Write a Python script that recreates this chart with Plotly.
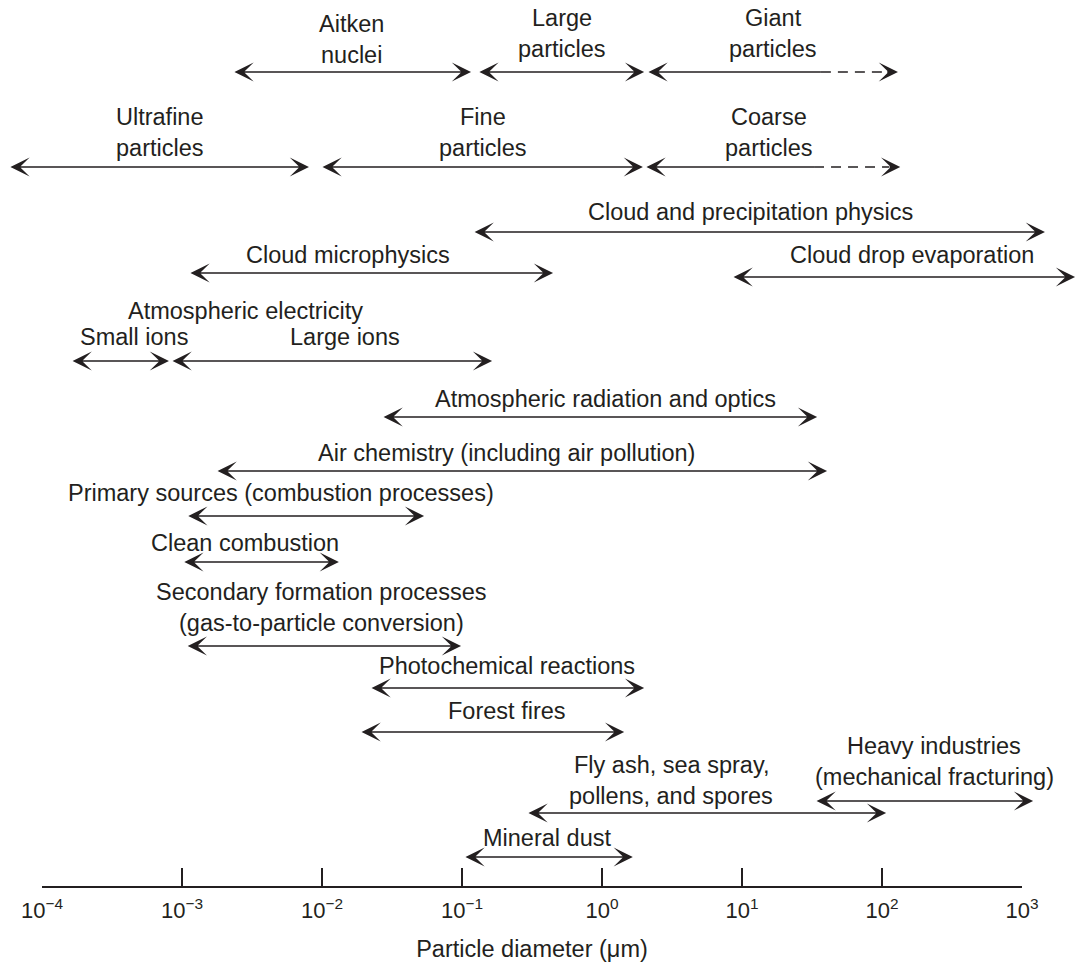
import math
import plotly.graph_objects as go

# ---------------- data (particle diameter ranges, micrometres) ----------------
categories = [
    "Aitken<br>nuclei", "Large<br>particles", "Giant<br>particles",
    "Ultrafine<br>particles", "Fine<br>particles", "Coarse<br>particles",
    "Cloud and precipitation physics", "Cloud microphysics", "Cloud drop evaporation",
    "Small ions", "Large ions",
    "Atmospheric radiation and optics", "Air chemistry (including air pollution)",
    "Primary sources (combustion processes)", "Clean combustion",
    "Secondary formation processes<br>(gas-to-particle conversion)",
    "Photochemical reactions", "Forest fires",
    "Fly ash, sea spray,<br>pollens, and spores",
    "Heavy industries<br>(mechanical fracturing)", "Mineral dust",
]
d_min = [2.35e-3, 0.132, 2.13,
         5.9e-5, 0.0100, 2.06,
         0.122, 1.14e-3, 8.63,
         1.64e-4, 8.49e-4,
         0.0273, 1.78e-3,
         1.10e-3, 1.03e-3,
         1.09e-3,
         0.0224, 0.0190,
         0.296,
         33.8, 0.105]
d_max = [0.116, 2.0, 130.0,
         8.07e-3, 1.96, 135.0,
         1459.0, 0.447, 2393.0,
         8.07e-4, 0.164,
         34.4, 40.5,
         0.0536, 0.0132,
         0.0984,
         2.0, 1.44,
         107.0,
         1200.0, 1.66]
# upper limit uncertain beyond this diameter (drawn dashed)
d_dashed_from = [None, None, 36.6,
                 None, None, 32.7,
                 None, None, None,
                 None, None,
                 None, None,
                 None, None,
                 None,
                 None, None,
                 None,
                 None, None]
header_label = "Atmospheric electricity"
tick_values = [1e-4, 1e-3, 1e-2, 1e-1, 1e0, 1e1, 1e2, 1e3]
tick_labels = ["10<sup>\u22124</sup>", "10<sup>\u22123</sup>", "10<sup>\u22122</sup>",
               "10<sup>\u22121</sup>", "10<sup>0</sup>", "10<sup>1</sup>",
               "10<sup>2</sup>", "10<sup>3</sup>"]
axis_title = "Particle diameter (\u03bcm)"

# ---------------- layout (pixel rows / label anchors) ----------------
W, H = 1077, 962
PLOT_BOTTOM = 886
arrow_row = [72, 72, 72, 167, 167, 167, 232, 273, 277, 361, 361,
             417, 471, 516, 562, 646, 688, 732, 813, 801, 857]
label_px = [351, 562, 773, 160, 483, 769, 750, 348, 912, 134, 345,
            605, 506, 281, 245, 321, 507, 507, 671, 934, 547]
label_row = [24, 18, 18, 117, 117, 117, 212, 255, 255, 337, 337,
             399, 453, 493, 543, 592, 666, 711, 765, 746, 838]
header_px, header_row = 245, 311
LINE_GAP = 31

INK = "#231f20"
FONT = "Liberation Sans, Arial, Helvetica, sans-serif"
FS = 23.5
AW = 1.6
AS = 2.0

fig = go.Figure()

def arrow(x_head, x_tail, y, side):
    fig.add_annotation(
        x=math.log10(x_head), y=y, ax=math.log10(x_tail), ay=y,
        xref="x", yref="y", axref="x", ayref="y",
        text="", showarrow=True, arrowside=side,
        arrowhead=3, startarrowhead=3,
        arrowsize=AS, startarrowsize=AS, arrowwidth=AW, arrowcolor=INK,
        font=dict(size=1), borderpad=0,
    )

for i, name in enumerate(categories):
    lo, hi, dash_from = d_min[i], d_max[i], d_dashed_from[i]
    y = arrow_row[i]
    if dash_from is None:
        arrow(hi, lo, y, "end+start")
    else:
        arrow(dash_from, lo, y, "start")
        tip_tail = 10 ** (math.log10(hi) - 0.08)
        fig.add_trace(go.Scatter(
            x=[dash_from, tip_tail], y=[y, y], mode="lines",
            line=dict(color=INK, width=AW, dash="10px,7px"),
            hoverinfo="skip", showlegend=False))
        arrow(hi, tip_tail, y, "end")
    # label (one annotation per text line for controlled spacing)
    for k, line in enumerate(name.split("<br>")):
        fig.add_annotation(
            x=label_px[i] / W, y=label_row[i] + k * LINE_GAP,
            xref="paper", yref="y", text=line, showarrow=False,
            xanchor="center", yanchor="middle",
            font=dict(family=FONT, size=FS, color=INK))

fig.add_annotation(
    x=header_px / W, y=header_row, xref="paper", yref="y",
    text=header_label, showarrow=False, xanchor="center", yanchor="middle",
    font=dict(family=FONT, size=FS, color=INK))

fig.update_layout(
    width=W, height=H,
    margin=dict(l=0, r=0, t=0, b=H - PLOT_BOTTOM, autoexpand=False),
    paper_bgcolor="white", plot_bgcolor="white",
    showlegend=False,
    xaxis=dict(
        type="log", range=[-4, 3],
        domain=[42 / W, 1022 / W],
        automargin=False,
        showline=True, linewidth=2, linecolor=INK,
        ticks="inside", ticklen=18, tickwidth=1.5, tickcolor=INK,
        tickvals=tick_values, ticktext=tick_labels,
        tickfont=dict(family=FONT, size=22, color=INK),
        ticklabelstandoff=4,
        showgrid=False, zeroline=False,
        title=dict(text=axis_title, font=dict(family=FONT, size=FS, color=INK), standoff=20),
    ),
    yaxis=dict(range=[PLOT_BOTTOM, 0], visible=False, fixedrange=True),
)

fig.write_html("out.html")
